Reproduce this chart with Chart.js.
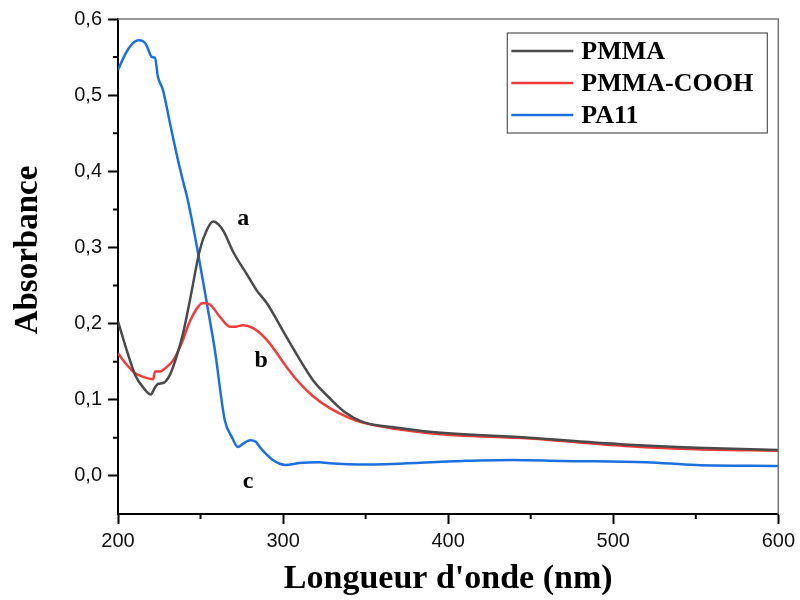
<!DOCTYPE html>
<html>
<head>
<meta charset="utf-8">
<script src="https://cdn.jsdelivr.net/npm/chart.js@4"></script>
<style>
  body { margin: 0; background: #fff; }
  canvas { display: block; }
</style>
</head>
<body>
<canvas id="chart" width="800" height="600"></canvas>
<script>
// spectra (wavelength in nm, absorbance)
const pmmaX = [200, 205.3, 210.3, 215.3, 219.8, 222.4, 224.4, 227.4, 231.5, 235.5, 239.5, 243.6, 249.6, 253.8, 257.7, 261, 264, 269.8, 278, 283.9, 290.1, 302.2, 318, 328.3, 337.3, 348.2, 370.6, 388.7, 449.2, 509.7, 550.3, 600];
const pmmaY = [0.203, 0.165, 0.133, 0.116, 0.107, 0.116, 0.121, 0.122, 0.133, 0.157, 0.188, 0.231, 0.297, 0.323, 0.334, 0.330, 0.321, 0.294, 0.265, 0.244, 0.227, 0.182, 0.126, 0.102, 0.084, 0.071, 0.063, 0.058, 0.050, 0.041, 0.037, 0.034];

const coohX = [200, 205.3, 210.3, 215.3, 221.4, 222.4, 225.4, 228.4, 233.5, 238.5, 243.6, 248.5, 251.6, 255.7, 261.7, 267.8, 271.5, 275.8, 281.9, 290, 295, 299.8, 308.3, 318, 328.3, 340.3, 348.2, 388.7, 449.2, 509.7, 550.3, 600];
const coohY = [0.161, 0.146, 0.135, 0.130, 0.127, 0.137, 0.137, 0.141, 0.152, 0.174, 0.203, 0.222, 0.227, 0.225, 0.209, 0.196, 0.196, 0.198, 0.194, 0.179, 0.165, 0.150, 0.126, 0.105, 0.089, 0.076, 0.070, 0.056, 0.049, 0.039, 0.035, 0.033];

const pa11X = [200, 204.2, 208.5, 212.7, 216.9, 220.6, 222.4, 224.2, 227.2, 231.5, 236.3, 239.3, 242.3, 247.8, 253.8, 258.7, 264.7, 269, 272.6, 275.6, 279.9, 283.5, 285.9, 290.1, 293.8, 298, 301.6, 310, 322, 328, 352, 408.7, 439, 469, 520, 550, 600];
const pa11Y = [0.533, 0.553, 0.567, 0.572, 0.567, 0.550, 0.549, 0.524, 0.507, 0.463, 0.415, 0.388, 0.362, 0.301, 0.227, 0.165, 0.073, 0.051, 0.038, 0.042, 0.047, 0.045, 0.038, 0.028, 0.021, 0.016, 0.0144, 0.017, 0.018, 0.0166, 0.015, 0.0197, 0.021, 0.0197, 0.018, 0.0144, 0.013];

const seriesNames = ['PMMA', 'PMMA-COOH', 'PA11'];
const seriesColors = ['#4a4a4a', '#f03c3c', '#1c6fdc'];

// curve letters
const noteLabels = ['a', 'b', 'c'];
const noteX = [275.8, 286.8, 278.8];
const noteY = [0.338, 0.151, -0.0075];

const yTitle = 'Absorbance';

const pts = (xs, ys) => xs.map((x, i) => ({ x: x, y: ys[i] }));

const isMajorY = v => Math.round(v * 100) % 10 === 0;
const isMajorX = v => Math.round(v) % 100 === 0;

const serif = "'Liberation Serif', 'Times New Roman', serif";
const sans = "'Liberation Sans', Arial, sans-serif";

const extras = {
    id: 'extras',
    afterDraw(chart) {
        const ctx = chart.ctx;
        const a = chart.chartArea;
        const xs = chart.scales.x;
        const ys = chart.scales.y;

        ctx.save();
        // grey frame on top and right
        ctx.strokeStyle = '#777';
        ctx.lineWidth = 1.5;
        ctx.beginPath();
        ctx.moveTo(a.left, a.top);
        ctx.lineTo(a.right, a.top);
        ctx.lineTo(a.right, a.bottom);
        ctx.stroke();

        // short minor ticks
        ctx.strokeStyle = '#000';
        ctx.lineWidth = 2;
        ctx.beginPath();
        xs.ticks.forEach(t => {
            if (isMajorX(t.value)) return;
            const px = xs.getPixelForValue(t.value);
            ctx.moveTo(px, a.bottom);
            ctx.lineTo(px, a.bottom + 5);
        });
        ys.ticks.forEach(t => {
            if (isMajorY(t.value) || t.value < 0) return;
            const py = ys.getPixelForValue(t.value);
            ctx.moveTo(a.left, py);
            ctx.lineTo(a.left - 5, py);
        });
        ctx.stroke();

        // y axis title, sits a bit above the middle like the original
        ctx.fillStyle = '#000';
        ctx.save();
        ctx.translate(28, 250);
        ctx.rotate(-Math.PI / 2);
        ctx.font = 'bold 33px ' + serif;
        ctx.textAlign = 'center';
        ctx.textBaseline = 'middle';
        ctx.fillText(yTitle, 0, 0);
        ctx.restore();

        // letters next to the curves
        ctx.font = 'bold 24px ' + serif;
        ctx.textAlign = 'center';
        ctx.textBaseline = 'middle';
        noteLabels.forEach((t, i) => {
            ctx.fillText(t, xs.getPixelForValue(noteX[i]), ys.getPixelForValue(noteY[i]));
        });

        // legend box in the upper right corner
        const bx = a.right - 271, by = a.top + 14, bw = 260, bh = 100;
        ctx.strokeStyle = '#555';
        ctx.lineWidth = 1.2;
        ctx.strokeRect(bx, by, bw, bh);
        ctx.font = 'bold 26px ' + serif;
        ctx.textAlign = 'left';
        chart.data.datasets.forEach((ds, i) => {
            const cy = by + 18 + i * 32;
            ctx.strokeStyle = ds.borderColor;
            ctx.lineWidth = 2.5;
            ctx.beginPath();
            ctx.moveTo(bx + 4, cy);
            ctx.lineTo(bx + 66, cy);
            ctx.stroke();
            ctx.fillStyle = '#000';
            ctx.fillText(ds.label, bx + 74, cy + 1);
        });
        ctx.restore();
    }
};

new Chart(document.getElementById('chart').getContext('2d'), {
    type: 'line',
    data: {
        datasets: [
            { label: seriesNames[0], data: pts(pmmaX, pmmaY), borderColor: seriesColors[0] },
            { label: seriesNames[1], data: pts(coohX, coohY), borderColor: seriesColors[1] },
            { label: seriesNames[2], data: pts(pa11X, pa11Y), borderColor: seriesColors[2] },
        ],
    },
    options: {
        responsive: false,
        animation: false,
        devicePixelRatio: 1,
        layout: { padding: { top: 19, right: 20, left: 0, bottom: 0 } },
        elements: {
            point: { radius: 0 },
            line: { borderWidth: 2.5, cubicInterpolationMode: 'monotone', fill: false },
        },
        plugins: {
            legend: { display: false },
            tooltip: { enabled: false },
        },
        scales: {
            x: {
                type: 'linear',
                min: 200,
                max: 600,
                afterFit: s => { s.height = 86; },
                border: { color: '#000', width: 2 },
                grid: {
                    drawOnChartArea: false,
                    tickLength: 10,
                    tickWidth: 2,
                    tickColor: c => (isMajorX(c.tick.value) ? '#000' : 'rgba(0,0,0,0)'),
                },
                ticks: {
                    stepSize: 50,
                    autoSkip: false,
                    maxRotation: 0,
                    padding: 5,
                    color: '#111',
                    font: { family: sans, size: 20 },
                    callback: v => (isMajorX(v) ? String(v) : ''),
                },
                title: {
                    display: true,
                    text: "Longueur d'onde (nm)",
                    color: '#000',
                    font: { family: serif, size: 34, weight: 'bold' },
                    padding: { top: 1, bottom: 0 },
                },
            },
            y: {
                min: -0.05,
                max: 0.6,
                afterFit: s => { s.width = 118; },
                border: { color: '#000', width: 2 },
                grid: {
                    drawOnChartArea: false,
                    tickLength: 10,
                    tickWidth: 2,
                    tickColor: c => (isMajorY(c.tick.value) ? '#000' : 'rgba(0,0,0,0)'),
                },
                ticks: {
                    stepSize: 0.05,
                    autoSkip: false,
                    padding: 6,
                    color: '#111',
                    font: { family: sans, size: 20 },
                    callback: v => {
                        const r = Math.round(v * 100);
                        if (r < 0 || r % 10 !== 0) return '';
                        return (r / 100).toFixed(1).replace('.', ',');
                    },
                },
            },
        },
    },
    plugins: [extras],
});
</script>
</body>
</html>
